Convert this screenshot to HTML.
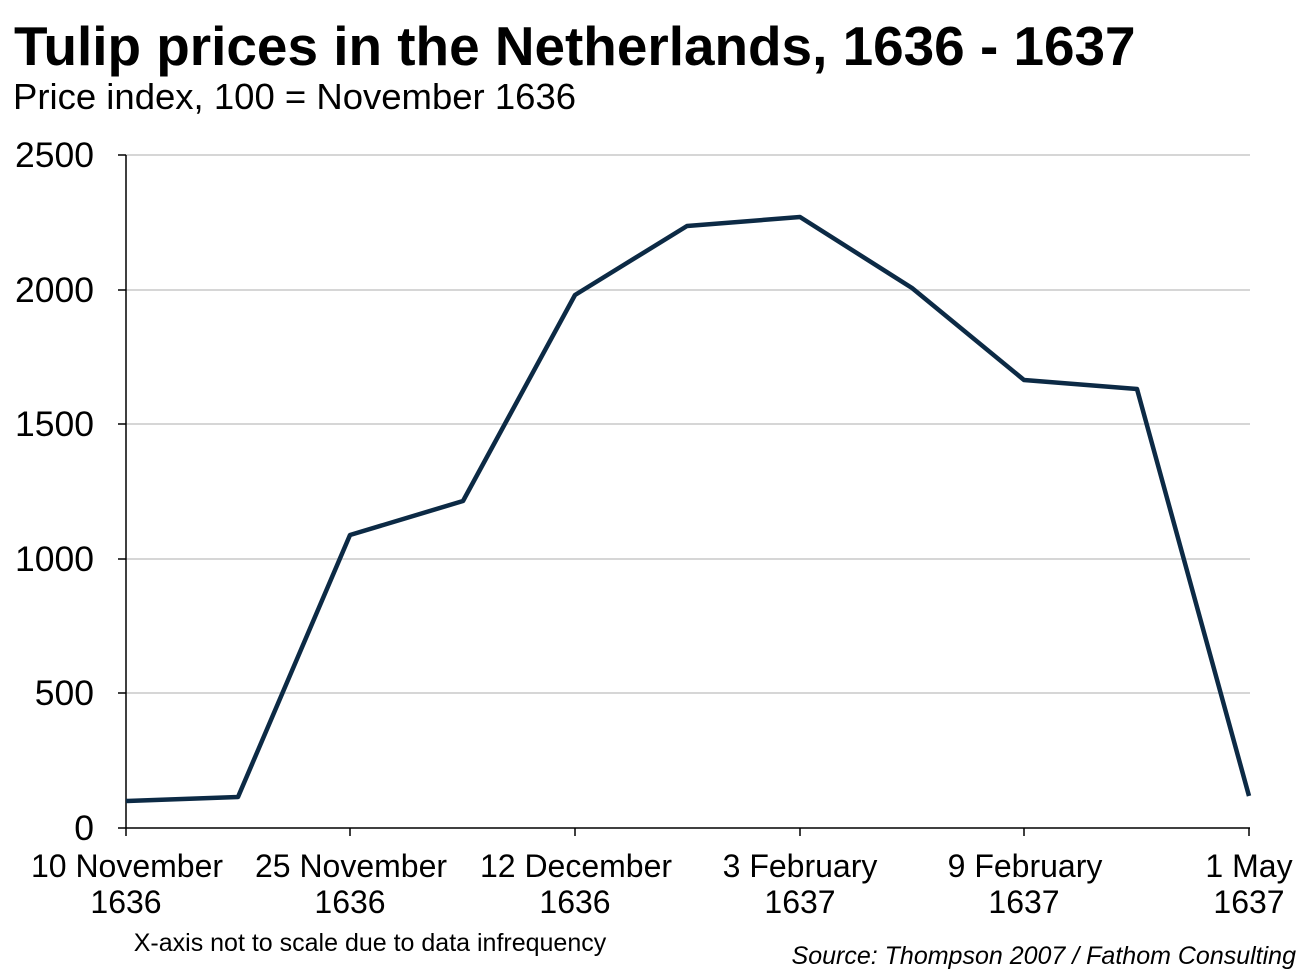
<!DOCTYPE html>
<html><head><meta charset="utf-8"><style>
html,body{margin:0;padding:0;background:#fff;}
svg{display:block;}
text{font-family:"Liberation Sans",Arial,sans-serif;fill:#000;}
</style></head><body>
<svg width="1304" height="980" viewBox="0 0 1304 980">
<text x="14" y="65" font-size="54.9" font-weight="bold">Tulip prices in the Netherlands, 1636 - 1637</text>
<text x="13" y="109" font-size="36.5">Price index, 100 = November 1636</text>
<g stroke="#c8c8c8" stroke-width="1.5">
<line x1="126" y1="155" x2="1250" y2="155"/>
<line x1="126" y1="290" x2="1250" y2="290"/>
<line x1="126" y1="424" x2="1250" y2="424"/>
<line x1="126" y1="559" x2="1250" y2="559"/>
<line x1="126" y1="693" x2="1250" y2="693"/>
</g>
<g stroke="#000" stroke-width="1.5">
<line x1="126" y1="155" x2="126" y2="836"/>
<line x1="118" y1="155" x2="126" y2="155"/>
<line x1="118" y1="290" x2="126" y2="290"/>
<line x1="118" y1="424" x2="126" y2="424"/>
<line x1="118" y1="559" x2="126" y2="559"/>
<line x1="118" y1="693" x2="126" y2="693"/>
<line x1="118" y1="828" x2="1250" y2="828"/>
<line x1="350" y1="828" x2="350" y2="836"/>
<line x1="575" y1="828" x2="575" y2="836"/>
<line x1="800" y1="828" x2="800" y2="836"/>
<line x1="1024" y1="828" x2="1024" y2="836"/>
<line x1="1249" y1="828" x2="1249" y2="836"/>
</g>
<g font-size="35.5" text-anchor="end">
<text x="94" y="167">2500</text>
<text x="94" y="302">2000</text>
<text x="94" y="436">1500</text>
<text x="94" y="571">1000</text>
<text x="94" y="705">500</text>
<text x="94" y="840">0</text>
</g>
<g font-size="32" text-anchor="middle">
<text x="127" y="877">10 November</text><text x="126" y="913">1636</text>
<text x="351" y="877">25 November</text><text x="350" y="913">1636</text>
<text x="576" y="877">12 December</text><text x="575" y="913">1636</text>
<text x="800" y="877">3 February</text><text x="800" y="913">1637</text>
<text x="1025" y="877">9 February</text><text x="1024" y="913">1637</text>
<text x="1249" y="877">1 May</text><text x="1249" y="913">1637</text>
</g>
<text x="370" y="951" font-size="25" text-anchor="middle">X-axis not to scale due to data infrequency</text>
<text x="1296" y="964" font-size="25" font-style="italic" text-anchor="end">Source: Thompson 2007 / Fathom Consulting</text>
<polyline fill="none" stroke="#0c2a45" stroke-width="4.5" stroke-linejoin="round"
points="126,801 238,797 350,535 463,501 575,295 687,226 800,217 912,288 1024,380 1137,389 1249,796"/>
</svg>
</body></html>
